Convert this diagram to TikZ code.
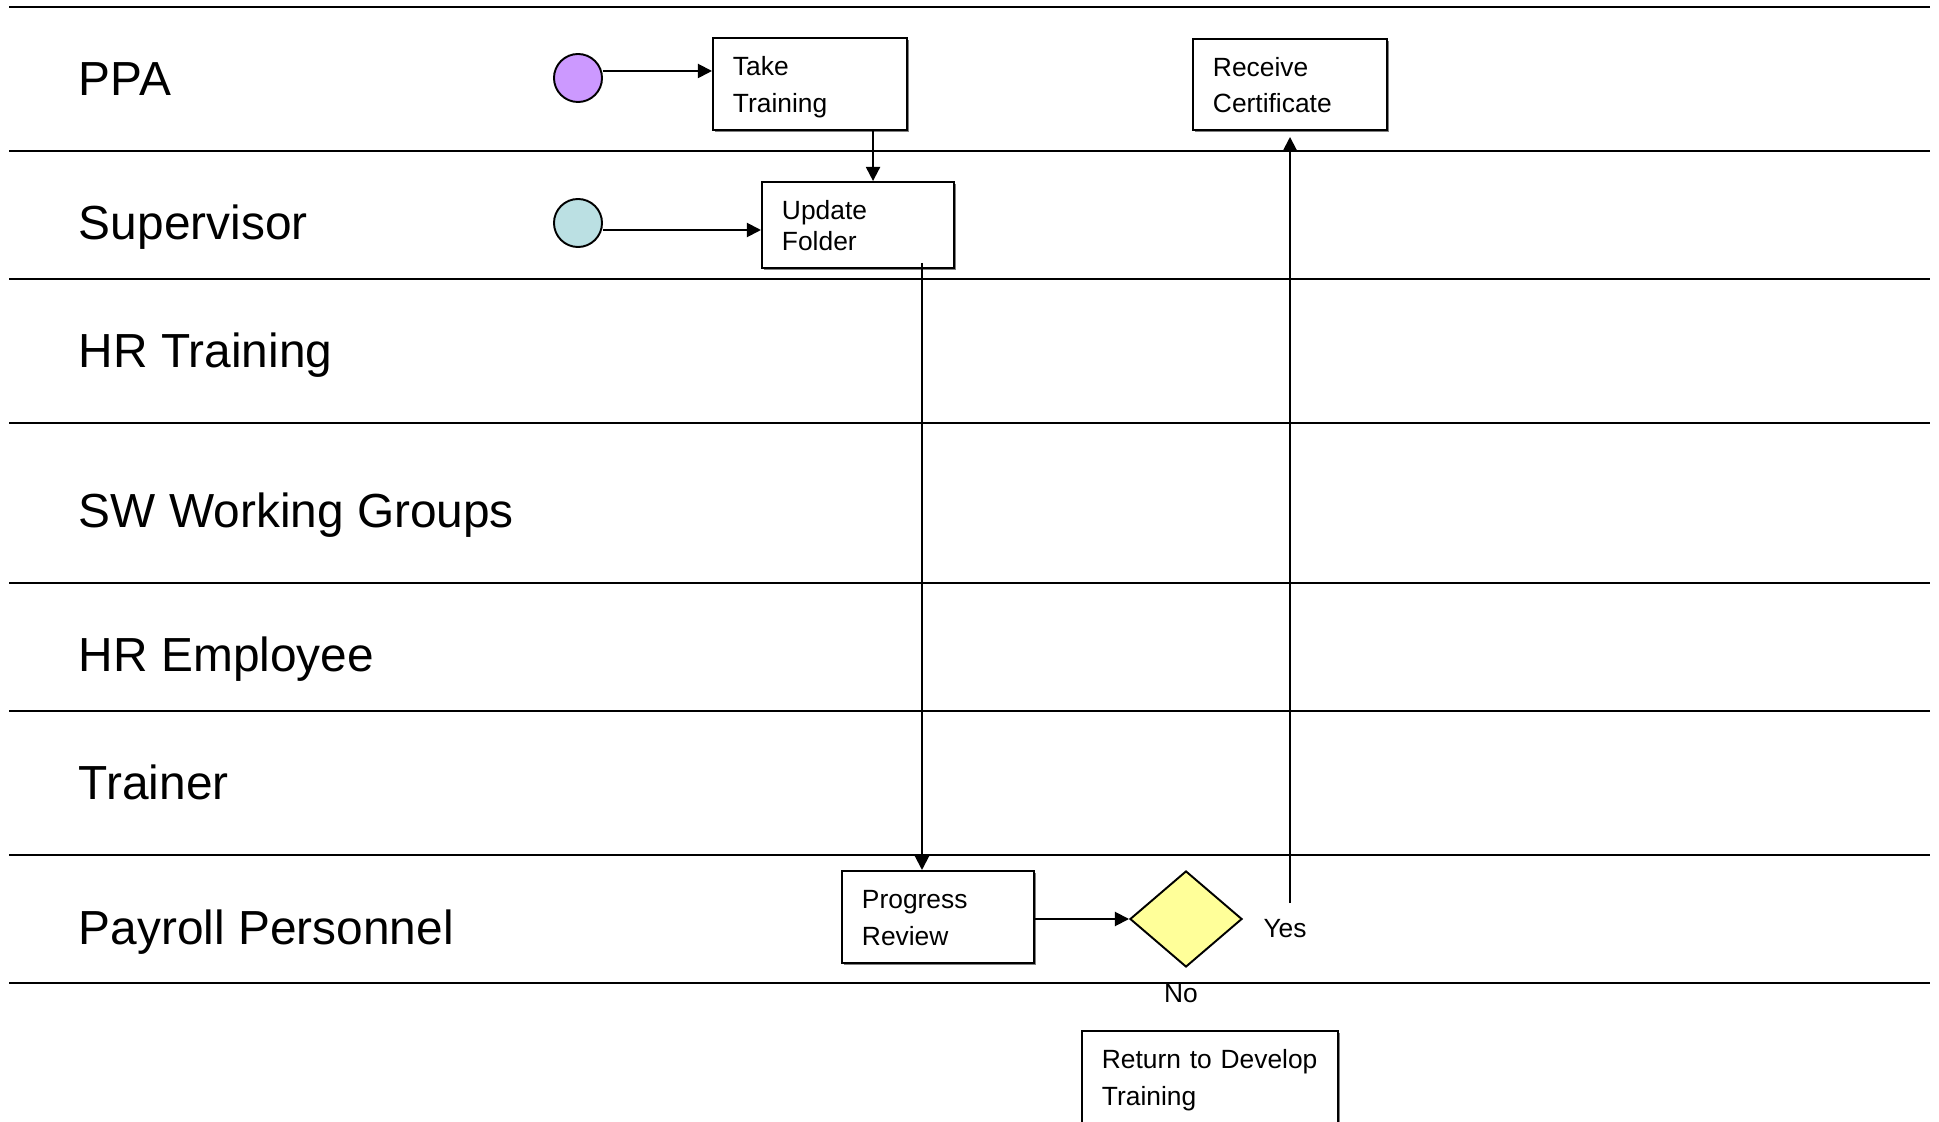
\documentclass[tikz,border=0pt]{standalone}
\usepackage{fontspec}
\setmainfont{Liberation Sans}
\usetikzlibrary{arrows.meta,shapes.geometric,shadows}
\definecolor{startpurple}{RGB}{204,153,255}
\definecolor{startteal}{RGB}{187,224,227}
\definecolor{decyellow}{RGB}{255,255,153}
\tikzset{
  lanelabel/.style={anchor=base west, inner sep=0pt, font=\fontsize{13.6}{16}\selectfont},
  task/.style={draw, fill=white, inner xsep=0.2cm, inner ysep=0pt, align=left,
    text height=6pt, text depth=10.8pt, font=\fontsize{7.5}{10.5}\selectfont,
    drop shadow={shadow xshift=0.6pt, shadow yshift=-0.6pt, fill=gray, opacity=1}},
  startdot/.style={circle, draw, minimum size=0.48cm, inner sep=0pt},
  answer/.style={inner sep=0pt, font=\fontsize{7.5}{9}\selectfont},
  flow/.style={-{Triangle[length=4pt,width=4pt]}},
}
\begin{document}
\begin{tikzpicture}[x=0.01cm, y=-0.01cm, line width=0.55pt]
  \useasboundingbox (0,0) rectangle (1939,1122);
  % swim lanes
  \foreach \y in {7,151,279,423,583,711,855,983}
    \draw (9,\y) -- (1930,\y);
  \node[lanelabel] (lppa) at (78,96) {PPA};
  \node[lanelabel] (lsup) at (78,240) {Supervisor};
  \node[lanelabel] (lhrt) at (78,368) {HR Training};
  \node[lanelabel] (lswg) at (78,528) {SW Working Groups};
  \node[lanelabel] (lhre) at (78,672) {HR Employee};
  \node[lanelabel] (ltrn) at (78,800) {Trainer};
  \node[lanelabel] (lpay) at (78,944) {Payroll Personnel};
  % start points
  \node[startdot, fill=startpurple] (ppastart) at (578,78) {};
  \node[startdot, fill=startteal] (supstart) at (578,223) {};
  % tasks
  \node[task, text width=1.54cm, minimum height=0.92cm] (take) at (810,84) {Take\\Training};
  \node[task, text width=1.52cm, minimum height=0.86cm, text depth=9.1pt,
    font=\fontsize{7.5}{8.8}\selectfont] (update) at (858,225) {Update\\Folder};
  \node[task, text width=1.54cm, minimum height=0.91cm] (receive) at (1290,84.5) {Receive\\Certificate};
  \node[task, text width=1.52cm, minimum height=0.92cm] (progress) at (938,917) {Progress\\Review};
  \node[task, text width=2.16cm, minimum height=0.92cm] (ret) at (1210,1077) {Return to Develop\\Training};
  \node[diamond, draw, fill=decyellow, minimum width=1.12cm, minimum height=0.96cm,
    inner sep=0pt] (check) at (1186,919) {};
  \node[answer] (yes) at (1285,929) {Yes};
  \node[answer] (no) at (1181,994) {No};
  \coordinate (yesfoot) at (1290,903);
  % connectors
  \draw[flow] ([yshift=0.07cm]ppastart.east) -- ([yshift=0.07cm]ppastart.east -| take.west);
  \draw[flow] ([yshift=-0.07cm]supstart.east) -- ([yshift=-0.07cm]supstart.east -| update.west);
  \draw[flow] ([xshift=0.63cm]take.south) -- ([xshift=0.63cm]take.south |- update.north);
  \draw[flow] ([xshift=-0.16cm,yshift=0.06cm]progress.north |- update.south) -- ([xshift=-0.16cm]progress.north);
  \draw[flow] (progress.east |- check.west) -- (check.west);
  \draw[flow] (yesfoot) -- ([yshift=-0.06cm]receive.south);
\end{tikzpicture}
\end{document}
